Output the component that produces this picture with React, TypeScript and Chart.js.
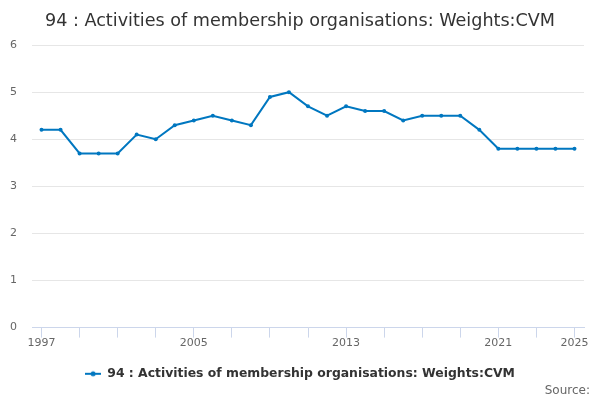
import React, { useEffect, useRef } from "react";
import { Chart, registerables } from "chart.js";

Chart.register(...registerables);

const TITLE = "94 : Activities of membership organisations: Weights:CVM";
const SERIES_NAME = "94 : Activities of membership organisations: Weights:CVM";
const years = [
  1997, 1998, 1999, 2000, 2001, 2002, 2003, 2004, 2005, 2006, 2007, 2008, 2009, 2010, 2011,
  2012, 2013, 2014, 2015, 2016, 2017, 2018, 2019, 2020, 2021, 2022, 2023, 2024, 2025,
];
const values = [
  4.2, 4.2, 3.7, 3.7, 3.7, 4.1, 4.0, 4.3, 4.4, 4.5, 4.4, 4.3, 4.9, 5.0, 4.7,
  4.5, 4.7, 4.6, 4.6, 4.4, 4.5, 4.5, 4.5, 4.2, 3.8, 3.8, 3.8, 3.8, 3.8,
];
const xTickYears = [1997, 1999, 2001, 2003, 2005, 2007, 2009, 2011, 2013, 2015, 2017, 2019, 2021, 2023, 2025];
const xLabelYears = [1997, 2005, 2013, 2021, 2025];
const yTicks = [0, 1, 2, 3, 4, 5, 6];
const SOURCE = "Source:";

const LINE_COLOR = "#0077c0";
const FONT = "'DejaVu Sans', sans-serif";

function makeLegendIcon(): HTMLCanvasElement {
  const c = document.createElement("canvas");
  c.width = 16;
  c.height = 8;
  const ctx = c.getContext("2d")!;
  ctx.strokeStyle = LINE_COLOR;
  ctx.lineWidth = 2;
  ctx.beginPath();
  ctx.moveTo(0, 4);
  ctx.lineTo(16, 4);
  ctx.stroke();
  ctx.fillStyle = LINE_COLOR;
  ctx.beginPath();
  ctx.arc(8, 4, 2.5, 0, Math.PI * 2);
  ctx.fill();
  return c;
}

const sourcePlugin = {
  id: "sourceText",
  afterDraw(chart: any) {
    const ctx = chart.ctx;
    ctx.save();
    ctx.font = `12px ${FONT}`;
    ctx.fillStyle = "#666666";
    ctx.textAlign = "right";
    ctx.textBaseline = "middle";
    ctx.fillText(SOURCE, 590, 391);
    ctx.restore();
  },
};

export default function App() {
  const ref = useRef<HTMLCanvasElement>(null);
  useEffect(() => {
    document.body.style.margin = "0";
    const chart = new Chart(ref.current!, {
      type: "line",
      data: {
        datasets: [
          {
            label: SERIES_NAME,
            data: years.map((y, i) => ({ x: y, y: values[i] })),
            borderColor: LINE_COLOR,
            backgroundColor: LINE_COLOR,
            borderWidth: 2,
            pointRadius: 2,
            pointHoverRadius: 3,
            pointBackgroundColor: LINE_COLOR,
            pointBorderWidth: 0,
            tension: 0,
          },
        ],
      },
      options: {
        animation: false,
        responsive: false,
        devicePixelRatio: window.devicePixelRatio || 1,
        layout: { padding: { left: 0, right: 0, top: 0, bottom: 10 } },
        plugins: {
          title: {
            display: true,
            text: TITLE,
            color: "#333333",
            font: { family: FONT, size: 17.6, weight: "normal" },
            padding: { top: 11, bottom: 13 },
          },
          legend: {
            position: "bottom",
            labels: {
              usePointStyle: true,
              pointStyle: makeLegendIcon() as any,
              pointStyleWidth: 16,
              color: "#333333",
              font: { family: FONT, size: 12.4, weight: "bold" },
              padding: 8,
            },
          },
          tooltip: { enabled: false },
        },
        scales: {
          x: {
            type: "linear",
            min: 1996.5,
            max: 2025.5,
            afterBuildTicks: (scale: any) => {
              scale.ticks = xTickYears.map((v) => ({ value: v }));
            },
            afterFit: (scale: any) => {
              scale.height = 32;
              scale.paddingRight = 16;
              scale.paddingLeft = 0;
            },
            ticks: {
              autoSkip: false,
              maxRotation: 0,
              padding: -1,
              color: "#666666",
              font: { family: FONT, size: 11 },
              callback: (v: any) => (xLabelYears.includes(Number(v)) ? String(v) : ""),
            },
            grid: {
              display: true,
              drawOnChartArea: false,
              drawTicks: true,
              tickLength: 10,
              color: "#ccd6eb",
              lineWidth: 1,
            },
            border: { display: true, color: "#ccd6eb", width: 1 },
          },
          y: {
            min: 0,
            max: 6,
            afterBuildTicks: (scale: any) => {
              scale.ticks = yTicks.map((v) => ({ value: v }));
            },
            afterFit: (scale: any) => {
              scale.width = 32;
            },
            ticks: {
              padding: 15,
              color: "#666666",
              font: { family: FONT, size: 11 },
            },
            grid: {
              color: "#e6e6e6",
              lineWidth: 1,
              drawTicks: false,
            },
            border: { display: false },
          },
        },
      },
      plugins: [sourcePlugin],
    });
    return () => chart.destroy();
  }, []);
  return (
    <div style={{ position: "absolute", left: 0, top: 0, width: 600, height: 400 }}>
      <canvas ref={ref} width={600} height={400} style={{ width: 600, height: 400 }} />
    </div>
  );
}
